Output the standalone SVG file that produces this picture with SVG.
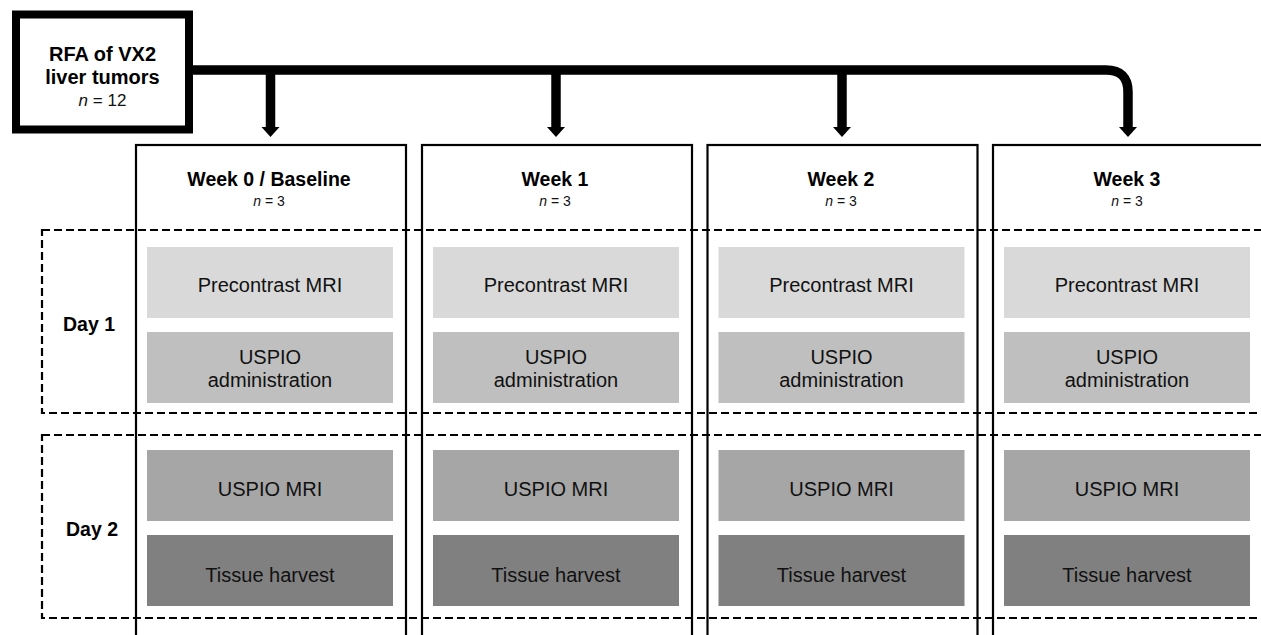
<svg xmlns="http://www.w3.org/2000/svg" width="1261" height="635" viewBox="0 0 1261 635">
  <defs>
    <style>
      .bold { font-family: "Liberation Sans", Arial, sans-serif; font-weight: bold; fill: #000; text-anchor: middle; }
      .reg { font-family: "Liberation Sans", Arial, sans-serif; fill: #111; text-anchor: middle; }
      .col { fill: none; stroke: #000; stroke-width: 2.2; }
      .day { fill: none; stroke: #000; stroke-width: 2.2; stroke-dasharray: 8 4; }
      .step { font-size: 20px; }
      .s1 { fill: #d9d9d9; }
      .s2 { fill: #bfbfbf; }
      .s3 { fill: #a6a6a6; }
      .s4 { fill: #808080; }
      .stem { fill: none; stroke: #000; stroke-width: 9.5; }
    </style>
    <g id="stack">
      <rect class="s1" x="11" y="102" width="246" height="71"/>
      <rect class="s2" x="11" y="187" width="246" height="71"/>
      <rect class="s3" x="11" y="305" width="246" height="71"/>
      <rect class="s4" x="11" y="390" width="246" height="71"/>
      <text class="reg step" x="134" y="147">Precontrast MRI</text>
      <text class="reg step" x="134" y="219">USPIO</text>
      <text class="reg step" x="134" y="242">administration</text>
      <text class="reg step" x="134" y="351">USPIO MRI</text>
      <text class="reg step" x="134" y="437">Tissue harvest</text>
    </g>
  </defs>

  <!-- day bands -->
  <g id="days">
    <rect class="day" x="42" y="230" width="1260" height="183"/>
    <rect class="day" x="42" y="435" width="1260" height="183"/>
    <text class="bold" x="89" y="331" font-size="19.5">Day 1</text>
    <text class="bold" x="92" y="536" font-size="19.5">Day 2</text>
  </g>

  <!-- source node -->
  <g id="rfa">
    <rect x="16" y="14.5" width="173" height="115" fill="#fff" stroke="#000" stroke-width="8"/>
    <text class="bold" x="102.5" y="61" font-size="20">RFA of VX2</text>
    <text class="bold" x="102.5" y="84" font-size="20">liver tumors</text>
    <text class="reg" x="102.5" y="106" font-size="17"><tspan font-style="italic">n</tspan> = 12</text>
  </g>

  <!-- connectors -->
  <g id="connectors">
    <path class="stem" d="M193 70 H1106 Q1128 70 1128 92 V128"/>
    <path class="stem" d="M270.5 70 V128"/>
    <path class="stem" d="M556 70 V128"/>
    <path class="stem" d="M842 70 V128"/>
    <polygon points="261.5,127 279.5,127 270.5,137"/>
    <polygon points="547,127 565,127 556,137"/>
    <polygon points="833,127 851,127 842,137"/>
    <polygon points="1119,127 1137,127 1128,137"/>
  </g>

  <!-- week columns -->
  <g id="week0">
    <rect class="col" x="136" y="145" width="270" height="520"/>
    <text class="bold" x="269" y="186" font-size="19.5">Week 0 / Baseline</text>
    <text class="reg" x="269" y="205.5" font-size="14"><tspan font-style="italic">n</tspan> = 3</text>
    <use href="#stack" x="136" y="145"/>
  </g>
  <g id="week1">
    <rect class="col" x="422" y="145" width="270" height="520"/>
    <text class="bold" x="555" y="186" font-size="19.5">Week 1</text>
    <text class="reg" x="555" y="205.5" font-size="14"><tspan font-style="italic">n</tspan> = 3</text>
    <use href="#stack" x="422" y="145"/>
  </g>
  <g id="week2">
    <rect class="col" x="707.5" y="145" width="270" height="520"/>
    <text class="bold" x="841" y="186" font-size="19.5">Week 2</text>
    <text class="reg" x="841" y="205.5" font-size="14"><tspan font-style="italic">n</tspan> = 3</text>
    <use href="#stack" x="707.5" y="145"/>
  </g>
  <g id="week3">
    <rect class="col" x="993" y="145" width="270" height="520"/>
    <text class="bold" x="1127" y="186" font-size="19.5">Week 3</text>
    <text class="reg" x="1127" y="205.5" font-size="14"><tspan font-style="italic">n</tspan> = 3</text>
    <use href="#stack" x="993" y="145"/>
  </g>
</svg>
